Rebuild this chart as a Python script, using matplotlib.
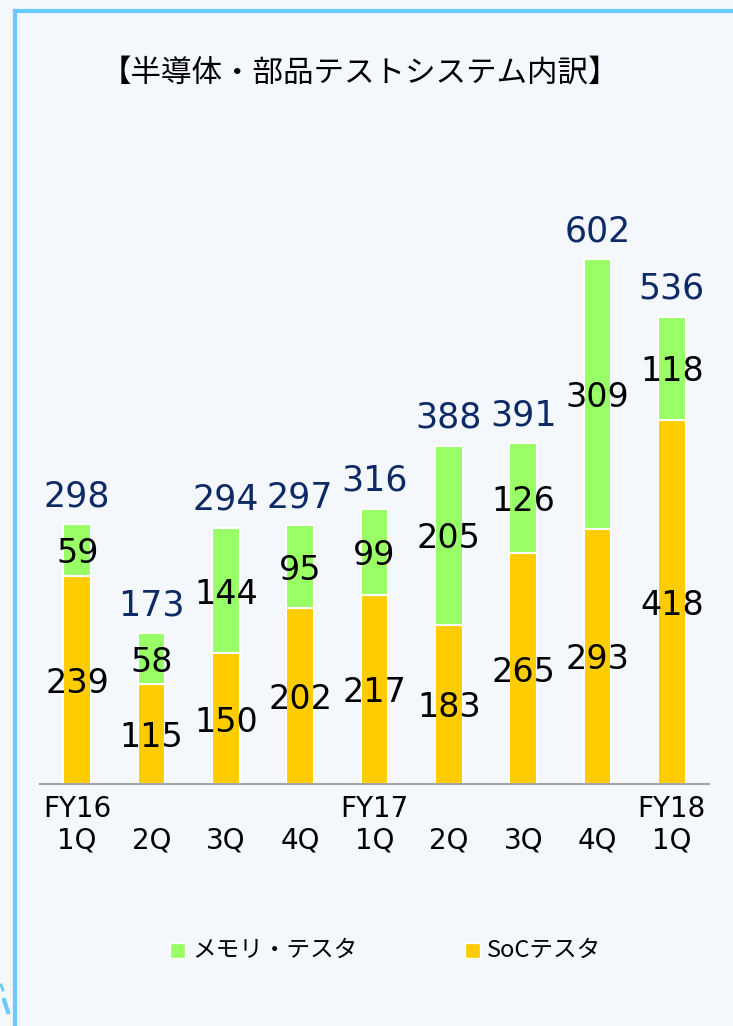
import matplotlib.pyplot as plt
from matplotlib.patches import Rectangle
from matplotlib.lines import Line2D

plt.rcParams['font.family'] = ['DejaVu Sans', 'Noto Sans CJK JP']

# quarterly data
quarters = ['FY16\n1Q', '\n2Q', '\n3Q', '\n4Q', 'FY17\n1Q', '\n2Q', '\n3Q', '\n4Q', 'FY18\n1Q']
soc = [239, 115, 150, 202, 217, 183, 265, 293, 418]
memory = [59, 58, 144, 95, 99, 205, 126, 309, 118]
totals = [298, 173, 294, 297, 316, 388, 391, 602, 536]

title = '【半導体・部品テストシステム内訳】'
legend_labels = ['メモリ・テスタ', 'SoCテスタ']

green = '#99ff66'
yellow = '#ffcc00'
navy = '#0d2a66'
border = '#66ccff'

W, H = 733, 1026
fig = plt.figure(figsize=(W / 100, H / 100), dpi=100)
fig.patch.set_facecolor('#f4f8fd')

# frame lines (left and top)
fig.add_artist(Line2D([15 / W, 15 / W], [0, 1 - 11 / H], color=border, lw=3, transform=fig.transFigure))
fig.add_artist(Line2D([15 / W, 1], [1 - 11 / H, 1 - 11 / H], color=border, lw=3, transform=fig.transFigure))
# small dashed decorations at bottom left
fig.add_artist(Line2D([1 / W, 3 / W], [1 - 985 / H, 1 - 990 / H], color=border, lw=2, transform=fig.transFigure))
fig.add_artist(Line2D([4 / W, 8 / W], [1 - 1000 / H, 1 - 1012 / H], color=border, lw=3, transform=fig.transFigure))

ax = fig.add_axes([40 / W, (H - 784) / H, 669 / W, 610 / H])
ax.set_facecolor('none')

x = range(len(quarters))
ax.bar(x, soc, width=0.37, color=yellow, edgecolor='white', linewidth=1.5)
ax.bar(x, memory, width=0.37, bottom=soc, color=green, edgecolor='white', linewidth=1.5)

for i in x:
    ax.text(i, soc[i] / 2, str(soc[i]), ha='center', va='center_baseline', fontsize=24, color='black')
    ax.text(i, soc[i] + memory[i] / 2, str(memory[i]), ha='center', va='center_baseline', fontsize=24, color='black')
    ax.annotate(str(totals[i]), (i, totals[i]), xytext=(0, 13), textcoords='offset points',
                ha='center', va='baseline', fontsize=25, color=navy)

ax.set_xlim(-0.5, 8.5)
ax.set_ylim(0, 700)
ax.set_yticks([])
for s in ['top', 'right', 'left']:
    ax.spines[s].set_visible(False)
ax.spines['bottom'].set_color('#a6a6a6')
ax.spines['bottom'].set_linewidth(1.5)
ax.set_xticks(list(x))
ax.set_xticklabels(quarters, fontsize=20)
for t in ax.get_xticklabels():
    t.set_linespacing(1.15)
ax.tick_params(axis='x', length=0, pad=8)

fig.text(360 / W, 1 - 73 / H, title, ha='center', va='center', fontsize=22, family='Noto Sans CJK JP')

# legend drawn by hand
for (sx, lab, col) in [(170, legend_labels[0], green), (465, legend_labels[1], yellow)]:
    fig.add_artist(Rectangle((sx / W, 1 - 958 / H), 15 / W, 15 / H, facecolor=col,
                             edgecolor='white', lw=1, transform=fig.transFigure))
    fig.text((sx + 22) / W, 1 - 950 / H, lab, ha='left', va='center', fontsize=17, family='Noto Sans CJK JP')

fig.savefig('out.png', dpi=100, facecolor=fig.get_facecolor())
